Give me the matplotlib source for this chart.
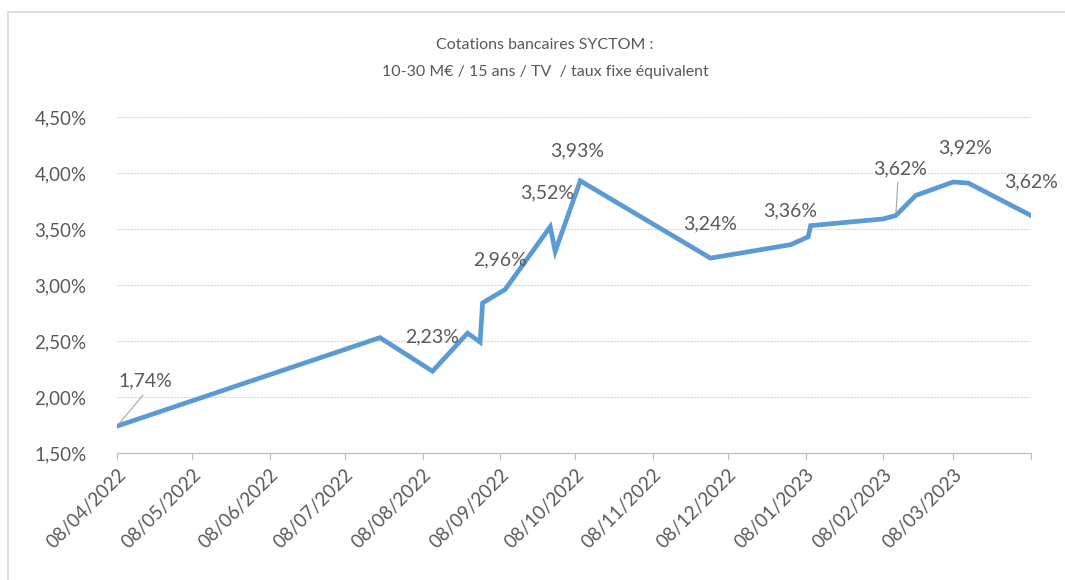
import matplotlib
matplotlib.use("Agg")
import matplotlib.pyplot as plt
from matplotlib.patches import Rectangle
from matplotlib.ticker import FuncFormatter
import datetime as dt

plt.rcParams['font.family'] = ['Lato', 'DejaVu Sans']

# The data
dates = ['2022-04-08', '2022-07-22', '2022-08-12', '2022-08-26', '2022-08-31',
         '2022-09-01', '2022-09-10', '2022-09-28', '2022-09-30', '2022-10-10',
         '2022-12-01', '2023-01-02', '2023-01-09', '2023-01-10', '2023-02-08',
         '2023-02-13', '2023-02-21', '2023-03-08', '2023-03-14', '2023-04-08']
rates = [1.74, 2.53, 2.23, 2.57, 2.49,
         2.84, 2.96, 3.52, 3.30, 3.93,
         3.24, 3.36, 3.43, 3.53, 3.59,
         3.62, 3.80, 3.92, 3.91, 3.62]

# labelled points: index, offset in pixels, leader line
label_idx = [0, 2, 6, 7, 9, 10, 11, 15, 17, 19]
label_off = [(28, 45), (0, 34), (-5, 30), (-3, 34), (-3, 30),
             (0, 34), (0, 34), (4, 47), (12, 34), (0, 34)]
label_leader = [True, False, False, False, False,
                False, False, True, False, False]

tick_dates = ['2022-04-08', '2022-05-08', '2022-06-08', '2022-07-08', '2022-08-08',
              '2022-09-08', '2022-10-08', '2022-11-08', '2022-12-08', '2023-01-08',
              '2023-02-08', '2023-03-08', '2023-04-08']

x = [dt.datetime.strptime(d, '%Y-%m-%d') for d in dates]
xt = [dt.datetime.strptime(d, '%Y-%m-%d') for d in tick_dates]

grey = '#595959'
blue = '#5b9bd5'

fig = plt.figure(figsize=(10.65, 5.8), dpi=100)
ax = fig.add_axes([117/1065, 1 - 453/580, (1031-117)/1065, (453-117)/580])

# chart frame like excel
fig.patches.append(Rectangle((8/1065, -0.1), 1.2, 1 - 12/580 + 0.1,
                             transform=fig.transFigure, fill=False,
                             edgecolor='#d9d9d9', linewidth=1.2))

ax.plot(x, rates, color=blue, linewidth=3.4, solid_joinstyle='miter', zorder=3)

for i, off, lead in zip(label_idx, label_off, label_leader):
    txt = ('%.2f%%' % rates[i]).replace('.', ',')
    ax.annotate(txt, (x[i], rates[i]), xytext=off, textcoords='offset pixels',
                ha='center', va='center', fontsize=14, color=grey, zorder=4)
    if lead:
        ax.annotate('', (x[i], rates[i]),
                    xytext=(off[0] - 2, off[1] - 14), textcoords='offset pixels',
                    arrowprops=dict(arrowstyle='-', color='#a6a6a6', lw=0.8,
                                    shrinkA=0, shrinkB=2))

ax.set_xlim(xt[0], xt[-1])
ax.set_ylim(1.5, 4.5)
ax.set_xticks(xt)
ax.set_xticklabels([d.strftime('%d/%m/%Y') for d in xt[:-1]] + [''])
ax.set_yticks([1.5, 2.0, 2.5, 3.0, 3.5, 4.0, 4.5])
ax.yaxis.set_major_formatter(FuncFormatter(lambda v, p: ('%.2f%%' % v).replace('.', ',')))

for lab in ax.get_xticklabels():
    lab.set_rotation(45)
    lab.set_ha('right')
    lab.set_rotation_mode('anchor')

ax.tick_params(axis='x', direction='out', length=5, color='#bfbfbf',
               labelsize=13.5, labelcolor=grey, pad=4)
ax.tick_params(axis='y', length=0, labelsize=13.5, labelcolor=grey, pad=22)

ax.grid(axis='y', linestyle=(0, (2, 1)), color='#d6d6d6', linewidth=0.8)
ax.set_axisbelow(True)
for s in ['top', 'right', 'left']:
    ax.spines[s].set_visible(False)
ax.spines['bottom'].set_color('#bfbfbf')
ax.spines['bottom'].set_linewidth(0.9)

fig.text(545/1065, 1 - 45/580, 'Cotations bancaires SYCTOM :', ha='center', va='center',
         fontsize=11.5, color=grey)
fig.text(545/1065, 1 - 72/580, '10-30 M€ / 15 ans / TV  / taux fixe équivalent',
         ha='center', va='center', fontsize=11.5, color=grey)

fig.savefig('out.png', dpi=100)
